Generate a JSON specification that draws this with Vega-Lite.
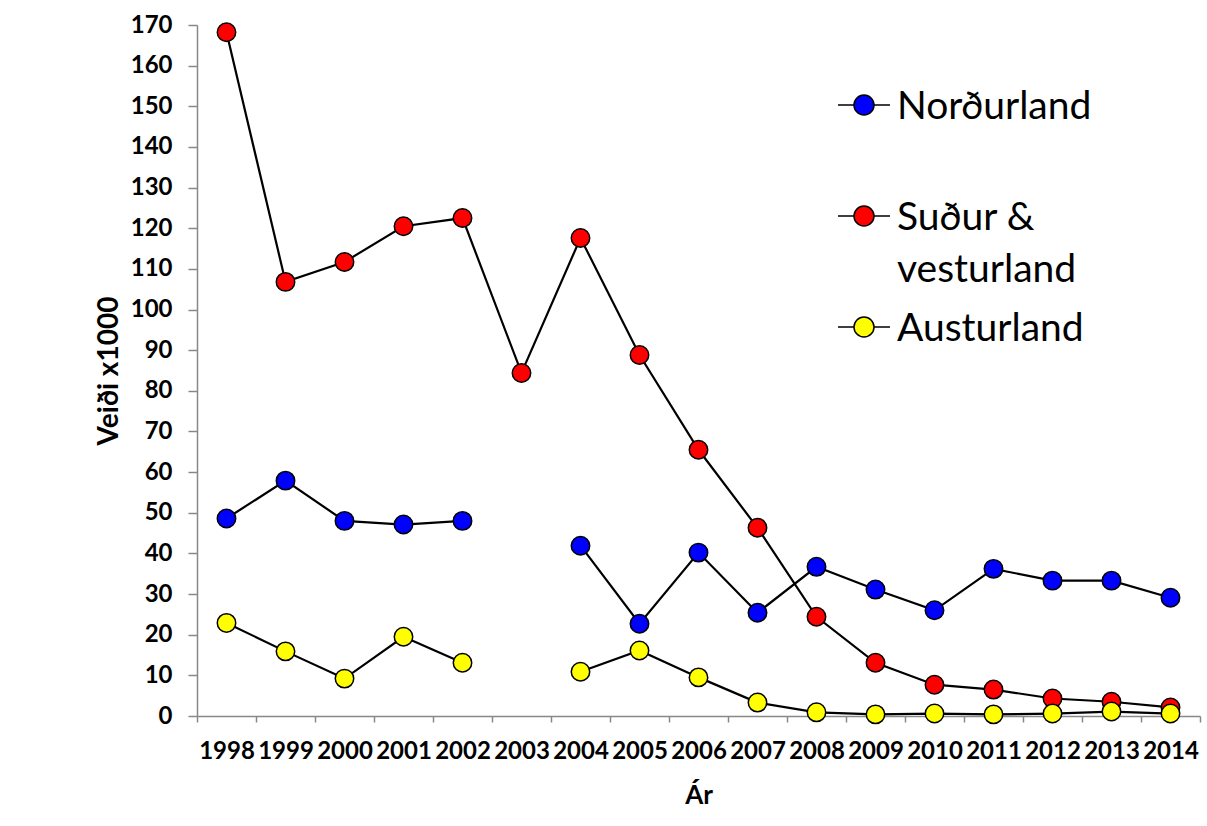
{
  "$schema": "https://vega.github.io/schema/vega-lite/v6.json",
  "width": 1003,
  "height": 691,
  "autosize": "none",
  "padding": {"left": 197, "top": 25, "right": 7, "bottom": 110},
  "background": "white",
  "config": {"view": {"stroke": null}, "font": "Lato"},
  "data": {
    "values": [
      {"year": "1998", "region": "Suður & vesturland", "catch": 168.2},
      {"year": "1999", "region": "Suður & vesturland", "catch": 106.8},
      {"year": "2000", "region": "Suður & vesturland", "catch": 111.7},
      {"year": "2001", "region": "Suður & vesturland", "catch": 120.5},
      {"year": "2002", "region": "Suður & vesturland", "catch": 122.5},
      {"year": "2003", "region": "Suður & vesturland", "catch": 84.4},
      {"year": "2004", "region": "Suður & vesturland", "catch": 117.6},
      {"year": "2005", "region": "Suður & vesturland", "catch": 88.8},
      {"year": "2006", "region": "Suður & vesturland", "catch": 65.5},
      {"year": "2007", "region": "Suður & vesturland", "catch": 46.3},
      {"year": "2008", "region": "Suður & vesturland", "catch": 24.4},
      {"year": "2009", "region": "Suður & vesturland", "catch": 13.1},
      {"year": "2010", "region": "Suður & vesturland", "catch": 7.7},
      {"year": "2011", "region": "Suður & vesturland", "catch": 6.5},
      {"year": "2012", "region": "Suður & vesturland", "catch": 4.3},
      {"year": "2013", "region": "Suður & vesturland", "catch": 3.5},
      {"year": "2014", "region": "Suður & vesturland", "catch": 2.1},
      {"year": "1998", "region": "Norðurland", "catch": 48.6},
      {"year": "1999", "region": "Norðurland", "catch": 57.9},
      {"year": "2000", "region": "Norðurland", "catch": 48.0},
      {"year": "2001", "region": "Norðurland", "catch": 47.1},
      {"year": "2002", "region": "Norðurland", "catch": 48.0},
      {"year": "2003", "region": "Norðurland", "catch": null},
      {"year": "2004", "region": "Norðurland", "catch": 41.9},
      {"year": "2005", "region": "Norðurland", "catch": 22.7},
      {"year": "2006", "region": "Norðurland", "catch": 40.2},
      {"year": "2007", "region": "Norðurland", "catch": 25.4},
      {"year": "2008", "region": "Norðurland", "catch": 36.7},
      {"year": "2009", "region": "Norðurland", "catch": 31.1},
      {"year": "2010", "region": "Norðurland", "catch": 26.0},
      {"year": "2011", "region": "Norðurland", "catch": 36.2},
      {"year": "2012", "region": "Norðurland", "catch": 33.3},
      {"year": "2013", "region": "Norðurland", "catch": 33.3},
      {"year": "2014", "region": "Norðurland", "catch": 29.1},
      {"year": "1998", "region": "Austurland", "catch": 22.9},
      {"year": "1999", "region": "Austurland", "catch": 15.9},
      {"year": "2000", "region": "Austurland", "catch": 9.2},
      {"year": "2001", "region": "Austurland", "catch": 19.5},
      {"year": "2002", "region": "Austurland", "catch": 13.1},
      {"year": "2003", "region": "Austurland", "catch": null},
      {"year": "2004", "region": "Austurland", "catch": 10.9},
      {"year": "2005", "region": "Austurland", "catch": 16.1},
      {"year": "2006", "region": "Austurland", "catch": 9.5},
      {"year": "2007", "region": "Austurland", "catch": 3.3},
      {"year": "2008", "region": "Austurland", "catch": 0.9},
      {"year": "2009", "region": "Austurland", "catch": 0.4},
      {"year": "2010", "region": "Austurland", "catch": 0.6},
      {"year": "2011", "region": "Austurland", "catch": 0.4},
      {"year": "2012", "region": "Austurland", "catch": 0.6},
      {"year": "2013", "region": "Austurland", "catch": 1.1},
      {"year": "2014", "region": "Austurland", "catch": 0.6}
    ]
  },
  "encoding": {
    "x": {
      "field": "year",
      "type": "ordinal",
      "scale": {"type": "band", "paddingInner": 0, "paddingOuter": 0},
      "axis": {
        "title": "Ár",
        "tickBand": "extent",
        "labelAngle": 0,
        "grid": false,
        "domainColor": "#888888",
        "domainWidth": 1.5,
        "tickColor": "#888888",
        "tickWidth": 1.5,
        "tickSize": 6,
        "labelFont": "Lato",
        "labelFontSize": 24,
        "labelFontWeight": "bold",
        "labelColor": "black",
        "labelBaseline": "alphabetic",
        "labelPadding": 36,
        "labelOverlap": false,
        "titleFont": "Lato",
        "titleFontSize": 26,
        "titleFontWeight": "bold",
        "titleColor": "black",
        "titleBaseline": "alphabetic",
        "titleY": 87
      }
    },
    "y": {
      "field": "catch",
      "type": "quantitative",
      "scale": {"domain": [0, 170], "nice": false},
      "axis": {
        "title": "Veiði x1000",
        "values": [0, 10, 20, 30, 40, 50, 60, 70, 80, 90, 100, 110, 120, 130, 140, 150, 160, 170],
        "grid": false,
        "domainColor": "#888888",
        "domainWidth": 1.5,
        "tickColor": "#888888",
        "tickWidth": 1.5,
        "tickSize": 9,
        "labelFont": "Lato",
        "labelFontSize": 24,
        "labelFontWeight": "bold",
        "labelColor": "black",
        "labelPadding": 16,
        "titleFont": "Lato",
        "titleFontSize": 28,
        "titleFontWeight": "bold",
        "titleColor": "black",
        "titleBaseline": "alphabetic",
        "titleX": -80
      }
    }
  },
  "layer": [
    {
      "mark": {"type": "line", "color": "black", "strokeWidth": 2.2, "invalid": "break-paths-show-domains"},
      "encoding": {"detail": {"field": "region"}}
    },
    {
      "mark": {"type": "point", "filled": true, "size": 340, "stroke": "black", "strokeWidth": 1.5, "opacity": 1},
      "encoding": {
        "color": {
          "field": "region",
          "type": "nominal",
          "scale": {"domain": ["Norðurland", "Suður & vesturland", "Austurland"], "range": ["#0000ff", "#ff0000", "#ffff00"]},
          "legend": {
            "title": null,
            "orient": "none",
            "legendX": 640,
            "legendY": 53,
            "padding": 0,
            "symbolType": "M-1,0H-0.385M0.385,0H1M-0.385,0A0.385,0.385 0 1,0 0.385,0A0.385,0.385 0 1,0 -0.385,0Z",
            "symbolSize": 2704,
            "symbolStrokeColor": "black",
            "symbolStrokeWidth": 1.5,
            "symbolOpacity": 1,
            "labelFont": "Lato",
            "labelFontSize": 39,
            "labelColor": "black",
            "labelBaseline": "alphabetic",
            "labelOffset": 6,
            "labelLimit": 400,
            "rowPadding": 10,
            "labelExpr": "datum.label == 'Suður & vesturland' ? ['Suður &', 'vesturland'] : [datum.label, ' ']",
            "encode": {"labels": {"update": {"dy": {"value": 14}, "lineHeight": {"value": 52}}}}
          }
        }
      }
    }
  ]
}
